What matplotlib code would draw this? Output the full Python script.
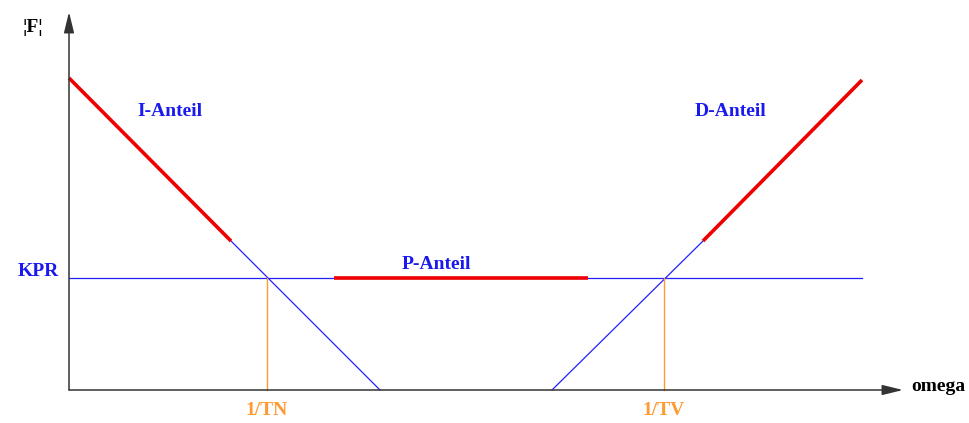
import matplotlib
matplotlib.use("Agg")
import matplotlib.pyplot as plt

# Diagram data (abstract units: x along omega, y along |F|)
kpr_level = 112
x_tn = 198
x_tv = 595
x_end = 793

i_red_x = [0, 162]
i_red_y = [312, 149]
i_blue_x = [162, 311]
i_blue_y = [149, 0]

d_blue_x = [483, 634]
d_blue_y = [0, 149]
d_red_x = [634, 793]
d_red_y = [149, 310]

p_red_x = [265, 519]

labels = ["I-Anteil", "P-Anteil", "D-Anteil"]
label_pos = [(101, 279), (367, 126), (662, 279)]

fig = plt.figure(figsize=(9.69, 4.23), dpi=100)
ax = fig.add_axes([0, 0, 1, 1])
ax.set_xlim(-69, 900)
ax.set_ylim(-33, 390)
ax.axis("off")

font = dict(family="Liberation Serif", fontweight="bold", fontsize=14)

# axes arrows
arrow = dict(arrowstyle="-|>,head_length=0.9,head_width=0.22", color="#333333",
             lw=1.1, mutation_scale=14, shrinkA=0, shrinkB=0)
ax.annotate("", xy=(834, 0), xytext=(0, 0), arrowprops=arrow)
ax.annotate("", xy=(0, 378), xytext=(0, 0), arrowprops=arrow)

blue = "#2020ff"
red = "#ee0000"
orange = "#ff9a33"

# KPR horizontal
ax.plot([0, x_end], [kpr_level, kpr_level], color=blue, lw=0.9)
# I part
ax.plot(i_blue_x, i_blue_y, color=blue, lw=0.9)
ax.plot(i_red_x, i_red_y, color=red, lw=2.6, solid_capstyle="butt")
# D part
ax.plot(d_blue_x, d_blue_y, color=blue, lw=0.9)
ax.plot(d_red_x, d_red_y, color=red, lw=2.6, solid_capstyle="butt")
# P part
ax.plot(p_red_x, [kpr_level, kpr_level], color=red, lw=2.6, solid_capstyle="butt")

# orange verticals
ax.plot([x_tn, x_tn], [0, kpr_level], color=orange, lw=1)
ax.plot([x_tv, x_tv], [0, kpr_level], color=orange, lw=1)

for lab, (lx, ly) in zip(labels, label_pos):
    ax.text(lx, ly, lab, color="#1a1aee", ha="center", va="center", **font)

ax.text(-31, 119, "KPR", color="#1a1aee", ha="center", va="center", **font)
ax.text(x_tn, -20, "1/TN", color=orange, ha="center", va="center", **font)
ax.text(x_tv, -20, "1/TV", color=orange, ha="center", va="center", **font)
ax.text(869, 4, "omega", color="black", ha="center", va="center", **font)
ax.text(-36, 363, "¦F¦", color="black", ha="center", va="center", **font)

fig.savefig("out.png", dpi=100)
